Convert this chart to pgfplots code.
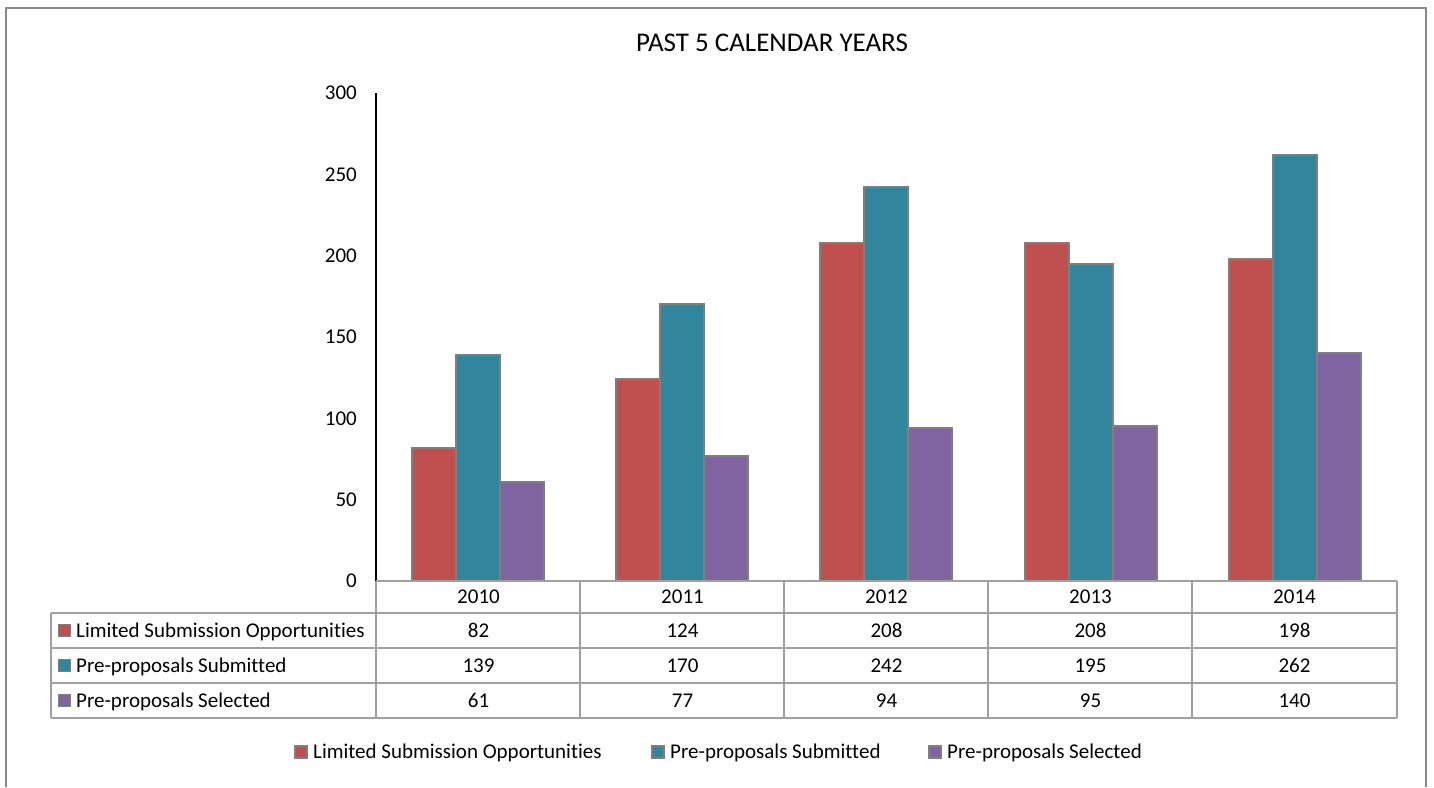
\documentclass[border=0pt]{standalone}
\usepackage{pgfplots}
\pgfplotsset{compat=1.18}
\usepackage{pgfplotstable}
\usepackage{fontspec}
\setmainfont[Ligatures=NoCommon]{Carlito}
\definecolor{cred}{HTML}{C0504D}
\definecolor{cteal}{HTML}{31859C}
\definecolor{cpur}{HTML}{8064A2}
\definecolor{bord}{HTML}{7F7F7F}
\definecolor{tgray}{HTML}{A0A0A0}
\definecolor{fgray}{HTML}{878787}
\newcommand\tf{\fontsize{21}{25}\selectfont}
\pgfplotstableread{
x lso pps sel
0 82 139 61
1 124 170 77
2 208 242 94
3 208 195 95
4 198 262 140
}\data
\begin{document}
\begin{tikzpicture}[x=1pt,y=1pt]
\useasboundingbox (0,0) rectangle (1434,787);
\draw[fgray, line width=2pt] (6,0) -- (6,779) -- (1426,779) -- (1426,0);
\node[font=\fontsize{27}{31}\selectfont, anchor=base] at (772,735) {PAST 5 CALENDAR YEARS};
\begin{axis}[
  at={(376pt,206pt)}, anchor=south west, scale only axis,
  width=1021pt, height=488pt,
  xmin=-0.5, xmax=4.5, ymin=0, ymax=300,
  ytick={0,50,...,300}, xtick=\empty,
  axis x line=none, axis y line*=left,
  y axis line style={-, black, line width=1.5pt},
  major tick length=0pt,
  yticklabel style={font=\tf, anchor=east, inner sep=0pt, xshift=-19pt},
  /pgf/number format/assume math mode=true,
  clip=false,
]
\addplot[ybar, bar width=44pt, bar shift=-44pt, fill=cred, draw=bord, line width=2pt] table[x=x,y=lso]{\data};
\addplot[ybar, bar width=44pt, bar shift=0pt, fill=cteal, draw=bord, line width=2pt] table[x=x,y=pps]{\data};
\addplot[ybar, bar width=44pt, bar shift=44pt, fill=cpur, draw=bord, line width=2pt] table[x=x,y=sel]{\data};
\end{axis}
% data table grid
\begin{scope}[tgray, line width=2pt]
\draw (376,206) -- (1397,206);
\foreach \yy in {174,139,104,69} \draw (51,\yy) -- (1397,\yy);
\draw (51,174) -- (51,69);
\foreach \xx in {376,580,784,988,1192,1397} \draw (\xx,206) -- (\xx,69);
\end{scope}
\begin{scope}[font=\tf]
\foreach \v [count=\i from 0] in {2010,2011,2012,2013,2014}
  \node[anchor=base, inner sep=0pt] at (478.5+204*\i,183.4) {\v};
\foreach \v [count=\i from 0] in {82,124,208,208,198}
  \node[anchor=base, inner sep=0pt] at (478.5+204*\i,149.9) {\v};
\foreach \v [count=\i from 0] in {139,170,242,195,262}
  \node[anchor=base, inner sep=0pt] at (478.5+204*\i,114.9) {\v};
\foreach \v [count=\i from 0] in {61,77,94,95,140}
  \node[anchor=base, inner sep=0pt] at (478.5+204*\i,79.9) {\v};
% row labels
\draw[bord, fill=cred, line width=1.2pt] (58.5,150.5) rectangle (70.5,162.5);
\node[anchor=base west, inner sep=0pt] at (76,149.9) {Limited Submission Opportunities};
\draw[bord, fill=cteal, line width=1.2pt] (58.5,115.5) rectangle (70.5,127.5);
\node[anchor=base west, inner sep=0pt] at (76,114.9) {Pre-proposals Submitted};
\draw[bord, fill=cpur, line width=1.2pt] (58.5,80.5) rectangle (70.5,92.5);
\node[anchor=base west, inner sep=0pt] at (76,79.9) {Pre-proposals Selected};
% legend
\draw[bord, fill=cred, line width=1.2pt] (295,29) rectangle (307,41);
\node[anchor=base west, inner sep=0pt] at (313,28.4) {Limited Submission Opportunities};
\draw[bord, fill=cteal, line width=1.2pt] (652,29) rectangle (664,41);
\node[anchor=base west, inner sep=0pt] at (670,28.4) {Pre-proposals Submitted};
\draw[bord, fill=cpur, line width=1.2pt] (929,29) rectangle (941,41);
\node[anchor=base west, inner sep=0pt] at (947,28.4) {Pre-proposals Selected};
\end{scope}
\end{tikzpicture}
\end{document}
